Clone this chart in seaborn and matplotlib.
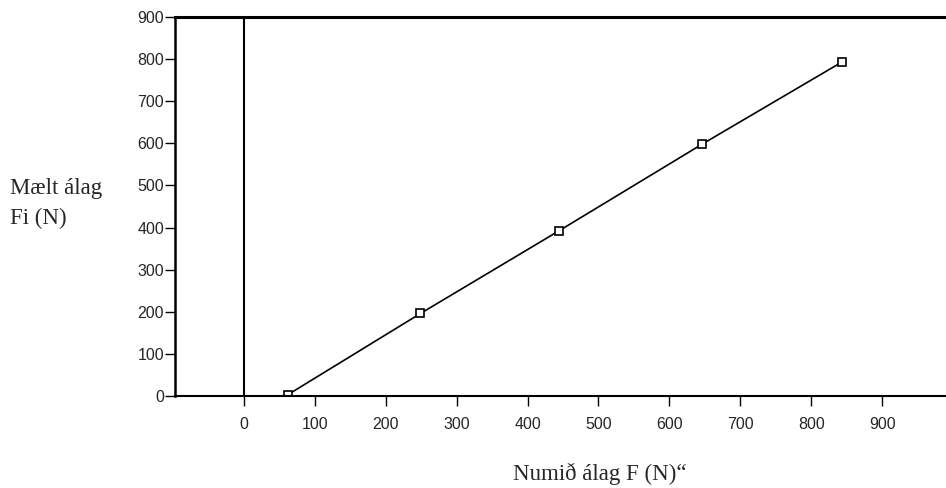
import pandas as pd
import matplotlib
matplotlib.use("Agg")
import matplotlib.pyplot as plt
import seaborn as sns

# applied load F (N) vs measured load Fi (N)
applied_load = [62, 249, 445, 646, 843]
measured_load = [3, 196, 393, 598, 793]
x_ticks = [0, 100, 200, 300, 400, 500, 600, 700, 800, 900]
y_ticks = [0, 100, 200, 300, 400, 500, 600, 700, 800, 900]

sns.set_style("white")
plt.rcParams['font.family'] = ['Liberation Sans', 'DejaVu Sans']

df = pd.DataFrame({"F": applied_load, "Fi": measured_load})

fig = plt.figure(figsize=(9.46, 4.88), dpi=100)
ax = fig.add_axes([0.185, 0.1885, 0.815, 0.7765])

sns.lineplot(x="F", y="Fi", data=df, ax=ax, color="black", linewidth=1.2,
             marker="s", markersize=6, markerfacecolor="white",
             markeredgecolor="black", markeredgewidth=1.2)
ax.axvline(0, color="black", linewidth=1.5, zorder=1)

ax.set_xlim(-97, 990)
ax.set_ylim(0, 900)
ax.set_xticks(x_ticks)
ax.set_yticks(y_ticks)
ax.tick_params(axis="both", direction="out", length=7, width=1, color="black",
               labelsize=11.5, bottom=True, left=True)
ax.tick_params(axis="x", pad=8)
ax.tick_params(axis="y", pad=1)
ax.set_xlabel("")
ax.set_ylabel("")

for side in ["left", "top", "bottom"]:
    ax.spines[side].set_visible(True)
    ax.spines[side].set_color("black")
ax.spines["left"].set_linewidth(1.8)
ax.spines["top"].set_linewidth(2.2)
ax.spines["bottom"].set_linewidth(1.5)
ax.spines["right"].set_visible(False)

fig.text(10 / 946, 1 - 194 / 488, "Mælt álag", family="Liberation Serif",
         fontsize=16.5, ha="left", va="baseline")
fig.text(10 / 946, 1 - 224 / 488, "Fi (N)", family="Liberation Serif",
         fontsize=16.5, ha="left", va="baseline")
fig.text(513 / 946, 1 - 480 / 488, "Numið álag F (N)\u201c", family="Liberation Serif",
         fontsize=16.5, ha="left", va="baseline")

fig.savefig("out.png", dpi=100)
